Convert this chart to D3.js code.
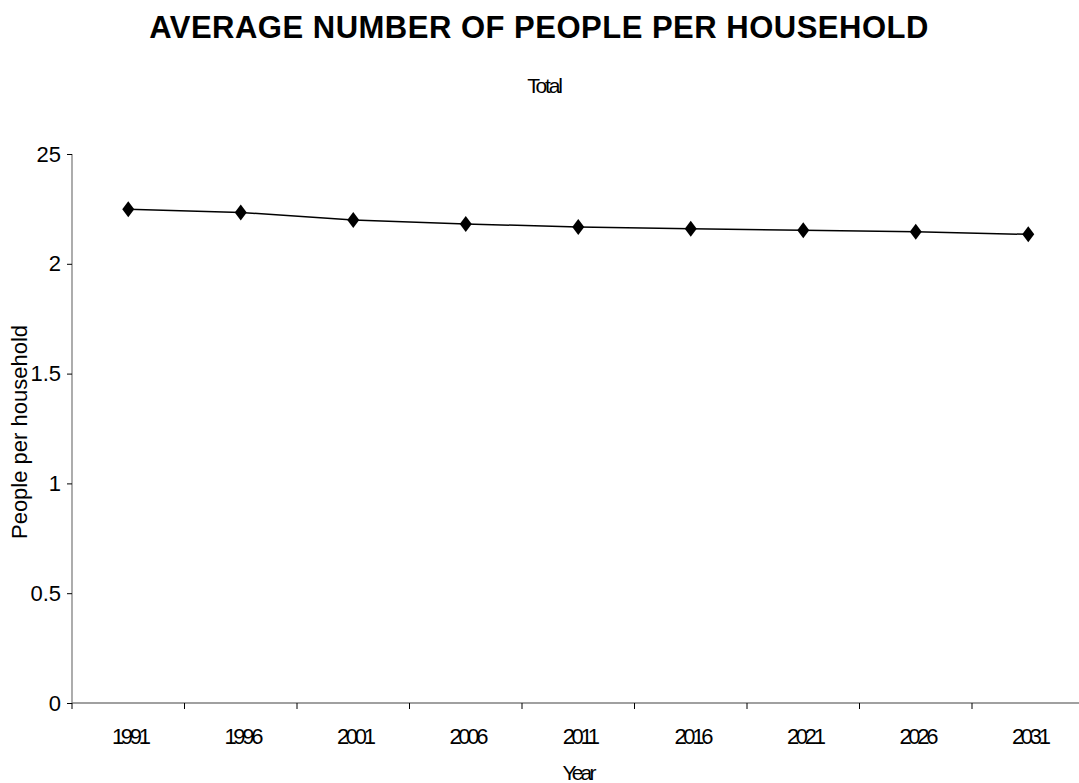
<!DOCTYPE html>
<html>
<head>
<meta charset="utf-8">
<script src="https://cdn.jsdelivr.net/npm/d3@7"></script>
<style>
  html, body { margin: 0; padding: 0; background: #fff; }
  svg { display: block; font-family: "Liberation Sans", Arial, sans-serif; }
</style>
</head>
<body>
<svg id="chart" width="1079" height="783"></svg>
<script>
// Average household size, projected to 2031
const years = ["1991", "1996", "2001", "2006", "2011", "2016", "2021", "2026", "2031"];
const peoplePerHousehold = [2.248, 2.234, 2.199, 2.181, 2.168, 2.160, 2.153, 2.146, 2.134];
const yTicks = [0, 0.5, 1, 1.5, 2, 2.5];
const yTickLabels = ["0", "0.5", "1", "1.5", "2", "25"];

const svg = d3.select("#chart");
const plot = { left: 72, right: 1084.5, top: 154, bottom: 703 };

const x = d3.scaleBand().domain(years).range([plot.left, plot.right]).padding(0);
const y = d3.scaleLinear().domain([0, 2.5]).range([plot.bottom, plot.top]);

// Titles
svg.append("text")
  .attr("x", 539).attr("y", 38)
  .attr("text-anchor", "middle")
  .attr("font-size", 31).attr("font-weight", "bold")
  .attr("letter-spacing", 0.5)
  .text("AVERAGE NUMBER OF PEOPLE PER HOUSEHOLD");

svg.append("text")
  .attr("x", 544).attr("y", 93)
  .attr("text-anchor", "middle")
  .attr("font-size", 21).attr("letter-spacing", -2.2)
  .text("Total");

// Y axis
const yAxis = svg.append("g")
  .attr("transform", `translate(${plot.left},0)`)
  .call(d3.axisLeft(y).tickValues(yTicks).tickSize(5).tickPadding(6)
    .tickFormat((d, i) => yTickLabels[i]));
yAxis.select(".domain").attr("stroke", "#808080").attr("stroke-width", 1.3)
  .attr("d", `M0,${plot.top}V${plot.bottom}`);
yAxis.selectAll(".tick line").attr("stroke", "#000");
yAxis.selectAll(".tick text").attr("font-size", 22).attr("fill", "#000")
  .attr("font-family", "Liberation Sans, Arial, sans-serif");

// X axis with ticks between categories
const xAxis = svg.append("g")
  .attr("transform", `translate(0,${plot.bottom})`);
xAxis.append("path")
  .attr("d", `M${plot.left},0H${plot.right}`)
  .attr("stroke", "#808080").attr("stroke-width", 1.3).attr("fill", "none");
const boundaries = years.map(d => x(d)).concat([plot.right]);
xAxis.selectAll("line.tick")
  .data(boundaries)
  .join("line")
  .attr("class", "tick")
  .attr("x1", d => d).attr("x2", d => d)
  .attr("y1", 0).attr("y2", 6)
  .attr("stroke", "#000");
xAxis.selectAll("text.label")
  .data(years)
  .join("text")
  .attr("class", "label")
  .attr("x", d => x(d) + x.bandwidth() / 2 + 1.5)
  .attr("y", 41)
  .attr("text-anchor", "middle")
  .attr("font-size", 22).attr("letter-spacing", -3.3)
  .text(d => d);

// Axis titles
svg.append("text")
  .attr("transform", "translate(27,432) rotate(-90)")
  .attr("text-anchor", "middle")
  .attr("font-size", 22)
  .text("People per household");

svg.append("text")
  .attr("x", 578).attr("y", 780)
  .attr("text-anchor", "middle")
  .attr("font-size", 21).attr("letter-spacing", -2.8)
  .text("Year");

// Series line and diamond markers
const data = years.map((d, i) => ({ year: d, value: peoplePerHousehold[i] }));
const cx = d => x(d.year) + x.bandwidth() / 2;

svg.append("path")
  .datum(data)
  .attr("fill", "none").attr("stroke", "#000").attr("stroke-width", 1.5)
  .attr("d", d3.line().x(cx).y(d => y(d.value)));

svg.selectAll("path.marker")
  .data(data)
  .join("path")
  .attr("class", "marker")
  .attr("transform", d => `translate(${cx(d)},${y(d.value)})`)
  .attr("d", "M0,-8L6,0L0,8L-6,0Z")
  .attr("fill", "#000");
</script>
</body>
</html>
